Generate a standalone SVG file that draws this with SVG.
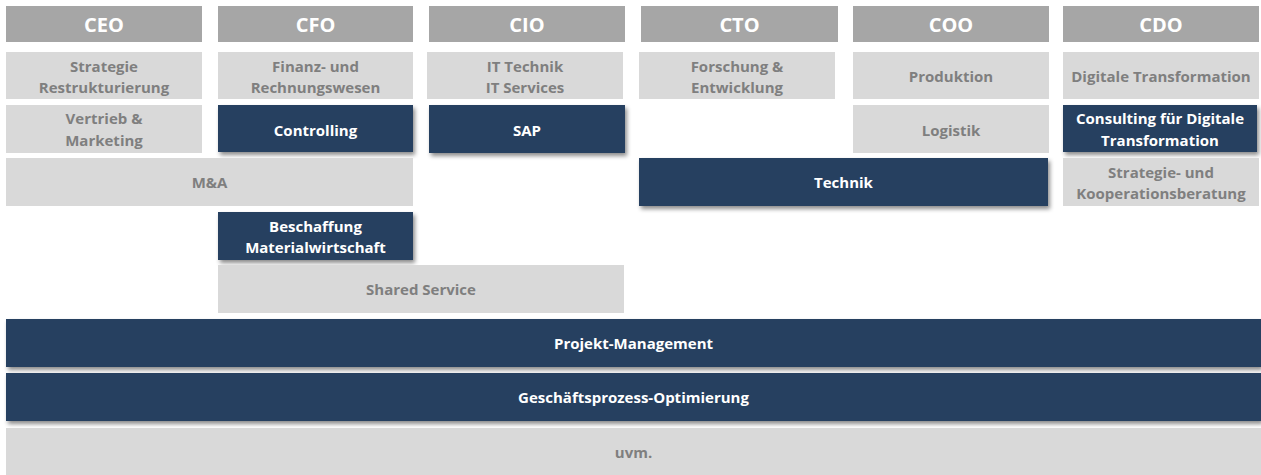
<svg xmlns="http://www.w3.org/2000/svg" width="1261" height="475" viewBox="0 0 1261 475">
<defs>
<filter id="sh" x="-5%" y="-20%" width="110%" height="160%">
<feDropShadow dx="2" dy="3" stdDeviation="2" flood-color="#000" flood-opacity="0.45"/>
</filter>
</defs>
<style>
text{font-family:"Open Sans","Liberation Sans",sans-serif;font-weight:bold;text-anchor:middle;dominant-baseline:central}
.hd rect{fill:#a6a6a6}
.hd text{fill:#fff;font-size:20px}
.lt rect{fill:#d9d9d9}
.lt text{fill:#7f7f7f;font-size:15px}
.dk rect{fill:#253f60;filter:url(#sh)}
.dk text{fill:#fff;font-size:15px}
</style>
<rect width="1261" height="475" fill="#fff"/>
<g id="nodes">
<g id="ceo" class="hd"><rect x="6" y="6" width="196" height="36"/><text x="104" y="24">CEO</text></g>
<g id="cfo" class="hd"><rect x="218" y="6" width="195" height="36"/><text x="315.5" y="24">CFO</text></g>
<g id="cio" class="hd"><rect x="429" y="6" width="196" height="36"/><text x="527" y="24">CIO</text></g>
<g id="cto" class="hd"><rect x="641" y="6" width="197" height="36"/><text x="739.5" y="24">CTO</text></g>
<g id="coo" class="hd"><rect x="853" y="6" width="196" height="36"/><text x="951" y="24">COO</text></g>
<g id="cdo" class="hd"><rect x="1063" y="6" width="196" height="36"/><text x="1161" y="24">CDO</text></g>

<g id="strategie" class="lt"><rect x="6" y="52" width="196" height="47"/><text x="104" y="66">Strategie</text><text x="104" y="87">Restrukturierung</text></g>
<g id="finanz" class="lt"><rect x="218" y="52" width="195" height="47"/><text x="315.5" y="66">Finanz- und</text><text x="315.5" y="87">Rechnungswesen</text></g>
<g id="it" class="lt"><rect x="427" y="52" width="196" height="47"/><text x="525" y="66">IT Technik</text><text x="525" y="87">IT Services</text></g>
<g id="forschung" class="lt"><rect x="639" y="52" width="196" height="47"/><text x="737" y="66">Forschung &amp;</text><text x="737" y="87">Entwicklung</text></g>
<g id="produktion" class="lt"><rect x="853" y="52" width="196" height="47"/><text x="951" y="76">Produktion</text></g>
<g id="digitale" class="lt"><rect x="1063" y="52" width="196" height="47"/><text x="1161" y="76">Digitale Transformation</text></g>

<g id="vertrieb" class="lt"><rect x="6" y="105" width="196" height="48"/><text x="104" y="118">Vertrieb &amp;</text><text x="104" y="140">Marketing</text></g>
<g id="controlling" class="dk"><rect x="218" y="105" width="195" height="47"/><text x="315.5" y="130">Controlling</text></g>
<g id="sap" class="dk"><rect x="429" y="105" width="196" height="48"/><text x="527" y="130">SAP</text></g>
<g id="logistik" class="lt"><rect x="853" y="105" width="196" height="48"/><text x="951" y="130">Logistik</text></g>
<g id="consulting" class="dk"><rect x="1063" y="105" width="194" height="47"/><text x="1160" y="118">Consulting für Digitale</text><text x="1160" y="140">Transformation</text></g>

<g id="ma" class="lt"><rect x="6" y="158" width="407" height="48"/><text x="209.5" y="182">M&amp;A</text></g>
<g id="technik" class="dk"><rect x="639" y="158" width="409" height="48"/><text x="843.5" y="182">Technik</text></g>
<g id="kooperation" class="lt"><rect x="1063" y="158" width="196" height="48"/><text x="1161" y="172">Strategie- und</text><text x="1161" y="193">Kooperationsberatung</text></g>

<g id="beschaffung" class="dk"><rect x="218" y="212" width="195" height="48"/><text x="315.5" y="226">Beschaffung</text><text x="315.5" y="247">Materialwirtschaft</text></g>
<g id="shared" class="lt"><rect x="218" y="265" width="406" height="48"/><text x="421" y="289">Shared Service</text></g>

<g id="projekt" class="dk"><rect x="6" y="319" width="1255" height="48"/><text x="633.5" y="343">Projekt-Management</text></g>
<g id="geschaeft" class="dk"><rect x="6" y="373" width="1255" height="48"/><text x="633.5" y="397">Geschäftsprozess-Optimierung</text></g>
<g id="uvm" class="lt"><rect x="6" y="428" width="1255" height="47"/><text x="633.5" y="452">uvm.</text></g>
</g>
<g id="connectors"/>
</svg>
